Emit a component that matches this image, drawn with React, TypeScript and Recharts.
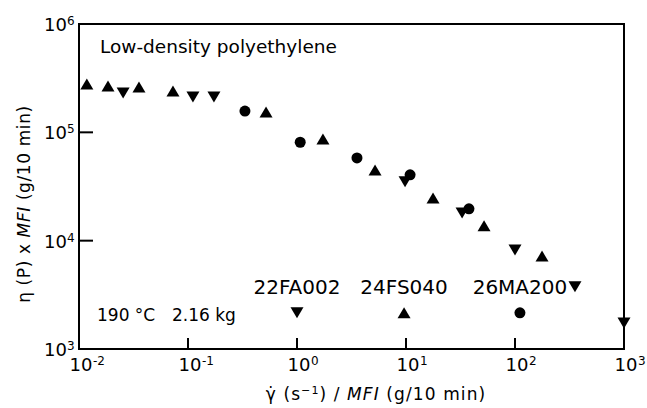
import React from 'react';
import { ScatterChart, Scatter, XAxis, YAxis, ReferenceArea } from 'recharts';

// shear rate / MFI  vs  viscosity x MFI
const downX = [0.0254, 0.111, 0.173, 9.8, 32.7, 100, 355, 1000];
const downY = [2.31e5, 2.12e5, 2.12e5, 3.49e4, 1.8e4, 8.2e3, 3.75e3, 1.74e3];
const upX = [0.0118, 0.01845, 0.0355, 0.0728, 0.52, 1.73, 5.2, 17.7, 52, 177];
const upY = [2.79e5, 2.68e5, 2.62e5, 2.41e5, 1.54e5, 8.7e4, 4.5e4, 2.48e4, 1.37e4, 7.2e3];
const circX = [0.333, 1.07, 3.55, 10.9, 37.8];
const circY = [1.57e5, 8.1e4, 5.8e4, 4.05e4, 1.97e4];

const gradeNames = ['22FA002', '24FS040', '26MA200'];
const gradeKinds = ['down', 'up', 'circle'];
const keyX = [1, 9.6, 111];
const keyY = 2.16e3;

const xTicks = [1e-2, 1e-1, 1, 10, 100, 1000];
const yTicks = [1e3, 1e4, 1e5, 1e6];
const xDomain = [1e-2, 1e3];
const yDomain = [1e3, 1e6];

const toPoints = (xs: number[], ys: number[]) => xs.map((x, i) => ({ x, y: ys[i] }));
const keyData = keyX.map((x, i) => ({ x, y: keyY, name: gradeNames[i], kind: gradeKinds[i] }));

function Marker({ kind, cx, cy }: { kind: string; cx: number; cy: number }) {
  if (kind === 'circle') return <circle cx={cx} cy={cy} r={5.5} fill="#000" />;
  const w = 13;
  const h = 11;
  const pts =
    kind === 'up'
      ? `${cx - w / 2},${cy + h / 2} ${cx + w / 2},${cy + h / 2} ${cx},${cy - h / 2}`
      : `${cx - w / 2},${cy - h / 2} ${cx + w / 2},${cy - h / 2} ${cx},${cy + h / 2}`;
  return <polygon points={pts} fill="#000" />;
}

function KeyMark(p: any) {
  return (
    <g>
      <Marker kind={p.payload.kind} cx={p.cx} cy={p.cy} />
      <text x={p.cx} y={p.cy - 19} textAnchor="middle" fontSize={20} fill="#000">
        {p.payload.name}
      </text>
    </g>
  );
}

function XTick({ x, y, payload }: any) {
  const e = Math.round(Math.log10(payload.value));
  return (
    <g>
      <line x1={x} y1={y} x2={x} y2={y - 11} stroke="#000" strokeWidth={2} />
      <text x={x + 2} y={y + 22} textAnchor="middle" fontSize={18} fill="#000">10</text>
      <text x={x + 14} y={y + 16} fontSize={12} fill="#000">{e}</text>
    </g>
  );
}

function YTick({ x, y, payload }: any) {
  const e = Math.round(Math.log10(payload.value));
  return (
    <g>
      <line x1={x} y1={y} x2={x + 14} y2={y} stroke="#000" strokeWidth={2} />
      <text x={x - 12} y={y + 7} textAnchor="end" fontSize={18} fill="#000">10</text>
      <text x={x - 12} y={y + 1} fontSize={12} fill="#000">{e}</text>
    </g>
  );
}

export default function App() {
  return (
    <div style={{ position: 'relative', width: 647, height: 408, fontFamily: 'DejaVu Sans' }}>
      <style>{'body{margin:0}'}</style>
      <div style={{ position: 'absolute', left: 8, top: 8 }}>
        <ScatterChart width={639} height={392} margin={{ top: 16, right: 23, left: 11, bottom: 11 }}>
          <XAxis
            type="number"
            dataKey="x"
            scale="log"
            domain={xDomain}
            ticks={xTicks}
            interval={0}
            height={40}
            tickSize={0}
            tickMargin={0}
            tickLine={false}
            tick={<XTick />}
            axisLine={{ stroke: '#000', strokeWidth: 2 }}
          />
          <YAxis
            type="number"
            dataKey="y"
            scale="log"
            domain={yDomain}
            ticks={yTicks}
            interval={0}
            width={60}
            tickSize={0}
            tickMargin={0}
            tickLine={false}
            tick={<YTick />}
            axisLine={{ stroke: '#000', strokeWidth: 2 }}
          />
          <ReferenceArea
            x1={xDomain[0]}
            x2={xDomain[1]}
            y1={yDomain[0]}
            y2={yDomain[1]}
            ifOverflow="visible"
            fill="none"
            fillOpacity={0}
            stroke="#000"
            strokeWidth={2}
            strokeOpacity={1}
          />
          <Scatter
            name="22FA002"
            data={toPoints(downX, downY)}
            isAnimationActive={false}
            shape={(p: any) => <Marker kind="down" cx={p.cx} cy={p.cy} />}
          />
          <Scatter
            name="24FS040"
            data={toPoints(upX, upY)}
            isAnimationActive={false}
            shape={(p: any) => <Marker kind="up" cx={p.cx} cy={p.cy} />}
          />
          <Scatter
            name="26MA200"
            data={toPoints(circX, circY)}
            isAnimationActive={false}
            shape={(p: any) => <Marker kind="circle" cx={p.cx} cy={p.cy} />}
          />
          <Scatter name="key" data={keyData} isAnimationActive={false} shape={KeyMark} />
        </ScatterChart>
      </div>
      <svg
        width={639}
        height={400}
        style={{ position: 'absolute', left: 8, top: 8, pointerEvents: 'none' }}
      >
        <text x={92} y={45} fontSize={18.5} fill="#000">Low-density polyethylene</text>
        <text x={89} y={313} fontSize={17} fill="#000">190 °C</text>
        <text x={164} y={313} fontSize={17} fill="#000">2.16 kg</text>
        <text x={368} y={392} textAnchor="middle" fontSize={17} letterSpacing={1.1} fill="#000">
          γ̇ (s<tspan dy={-6} fontSize={11}>−1</tspan>
          <tspan dy={6}>) / </tspan>
          <tspan fontStyle="italic">MFI</tspan> (g/10 min)
        </text>
        <text
          x={22}
          y={196}
          transform="rotate(-90 22 196)"
          textAnchor="middle"
          fontSize={17}
          letterSpacing={0.6}
          fill="#000"
        >
          η (P) x <tspan fontStyle="italic">MFI</tspan> (g/10 min)
        </text>
      </svg>
    </div>
  );
}
